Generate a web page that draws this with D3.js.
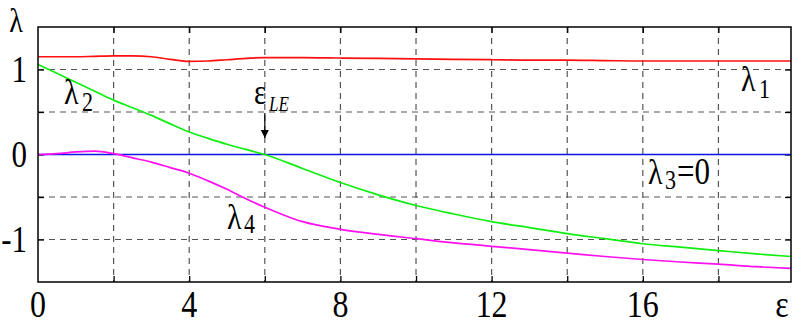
<!DOCTYPE html>
<html>
<head>
<meta charset="utf-8">
<script src="https://cdn.jsdelivr.net/npm/d3@7"></script>
<style>
  body { margin: 0; background: #fff; }
</style>
</head>
<body>
<div id="chart"></div>
<script>
// values
const eps = [0, 0.5, 1, 1.5, 2, 2.5, 3, 3.5, 4, 4.5, 5, 5.5, 6, 7, 8, 9, 10, 11, 12, 13, 14, 15, 16, 17, 18, 19, 19.92];
const lambda1 = [1.15, 1.15, 1.15, 1.155, 1.16, 1.16, 1.15, 1.12, 1.095, 1.10, 1.115, 1.13, 1.14, 1.14, 1.135, 1.13, 1.125, 1.12, 1.115, 1.11, 1.11, 1.105, 1.10, 1.10, 1.10, 1.10, 1.10];
const lambda2 = [1.06, 0.955, 0.85, 0.745, 0.64, 0.55, 0.46, 0.36, 0.265, 0.19, 0.12, 0.06, 0, -0.165, -0.33, -0.475, -0.60, -0.70, -0.79, -0.86, -0.93, -0.99, -1.05, -1.09, -1.13, -1.17, -1.20];
const lambda3 = eps.map(() => 0);
const lambda4 = [0, 0.01, 0.03, 0.04, 0.01, -0.04, -0.09, -0.155, -0.22, -0.31, -0.41, -0.52, -0.62, -0.79, -0.88, -0.94, -0.99, -1.04, -1.08, -1.12, -1.16, -1.20, -1.235, -1.265, -1.29, -1.32, -1.34];

const xTicks = [0, 4, 8, 12, 16];
const yTicks = [1, 0, -1];
const xGrid = [2, 4, 6, 8, 10, 12, 14, 16, 18];
const yGrid = [1, 0.5, 0, -0.5, -1];

const W = 795, H = 329;
const margin = { top: 27, right: 4, bottom: 47, left: 38 };
const serif = "'Liberation Serif', 'Times New Roman', Times, 'DejaVu Serif', serif";

const svg = d3.select("#chart").append("svg")
    .attr("width", W)
    .attr("height", H);

const x = d3.scaleLinear().domain([0, 19.92]).range([margin.left, W - margin.right]);
const y = d3.scaleLinear().domain([-1.5, 1.5]).range([H - margin.bottom, margin.top]);

// dashed grid
svg.append("g").selectAll("line").data(xGrid).join("line")
    .attr("x1", d => x(d)).attr("x2", d => x(d))
    .attr("y1", y(1.5)).attr("y2", y(-1.5))
    .attr("stroke", "#555").attr("stroke-width", 1.2).attr("stroke-dasharray", "6,5");
svg.append("g").selectAll("line").data(yGrid).join("line")
    .attr("x1", x(0)).attr("x2", x(19.92))
    .attr("y1", d => y(d)).attr("y2", d => y(d))
    .attr("stroke", "#555").attr("stroke-width", 1.2).attr("stroke-dasharray", "6,5");

// inward ticks on all four sides
const tk = 6;
const addTicks = (axis, tr) => {
    const g = svg.append("g").attr("transform", tr).call(axis);
    g.select(".domain").remove();
    g.selectAll(".tick line").attr("stroke", "#000").attr("stroke-width", 1.3);
    g.selectAll(".tick text").remove();
};
addTicks(d3.axisBottom(x).tickValues(xGrid).tickSize(-tk), `translate(0,${y(-1.5)})`);
addTicks(d3.axisTop(x).tickValues(xGrid).tickSize(-tk), `translate(0,${y(1.5)})`);
addTicks(d3.axisLeft(y).tickValues(yGrid).tickSize(-tk), `translate(${x(0)},0)`);
addTicks(d3.axisRight(y).tickValues(yGrid).tickSize(-tk), `translate(${x(19.92)},0)`);

// curves
const line = d3.line().x((d, i) => x(eps[i])).y(d => y(d)).curve(d3.curveMonotoneX);
const series = [
    { v: lambda3, c: "#0a14e6" },
    { v: lambda1, c: "#ff1010" },
    { v: lambda2, c: "#10ee10" },
    { v: lambda4, c: "#ff10f0" }
];
svg.append("g").selectAll("path").data(series).join("path")
    .attr("d", d => line(d.v))
    .attr("fill", "none")
    .attr("stroke", d => d.c)
    .attr("stroke-width", 1.7);

// frame
svg.append("rect")
    .attr("x", x(0)).attr("y", y(1.5))
    .attr("width", x(19.92) - x(0)).attr("height", y(-1.5) - y(1.5))
    .attr("fill", "none").attr("stroke", "#000").attr("stroke-width", 1.5);

// text is a bit taller than wide in the picture
const label = (tx, ty, s, size, anchor, italic) => svg.append("text")
    .attr("transform", `translate(${tx},${ty}) scale(1,1.2)`)
    .attr("text-anchor", anchor || "start")
    .attr("font-family", serif)
    .attr("font-size", size)
    .attr("font-style", italic ? "italic" : "normal")
    .attr("fill", "#000")
    .text(s);

xTicks.forEach(d => label(x(d), 317, d, 32, "middle"));
yTicks.forEach(d => label(27, y(d) + 12, d === 0 ? "0" : d === 1 ? "1" : "-1", 31, "end"));
label(782, 317, "ε", 32, "middle");
label(16, 32, "λ", 28, "middle");

// curve labels
label(64, 104, "λ", 30); label(82, 111, "2", 22);
label(741, 91, "λ", 30); label(759, 98, "1", 22);
label(648, 184, "λ", 30); label(665, 189, "3", 22); label(677, 184, "=0", 31);
label(227, 229, "λ", 30); label(244, 233, "4", 22);
label(254, 104, "ε", 29); label(269, 111, "LE", 17, "start", true);

// arrow at eps_LE
svg.append("defs").append("marker")
    .attr("id", "ah").attr("viewBox", "0 0 10 10")
    .attr("refX", 10).attr("refY", 5)
    .attr("markerWidth", 7).attr("markerHeight", 9)
    .attr("orient", "auto")
    .append("path").attr("d", "M0,0 L10,5 L0,10 Z").attr("fill", "#000");
svg.append("line")
    .attr("x1", x(6)).attr("x2", x(6))
    .attr("y1", 113).attr("y2", 138)
    .attr("stroke", "#000").attr("stroke-width", 1.2)
    .attr("marker-end", "url(#ah)");
</script>
</body>
</html>
